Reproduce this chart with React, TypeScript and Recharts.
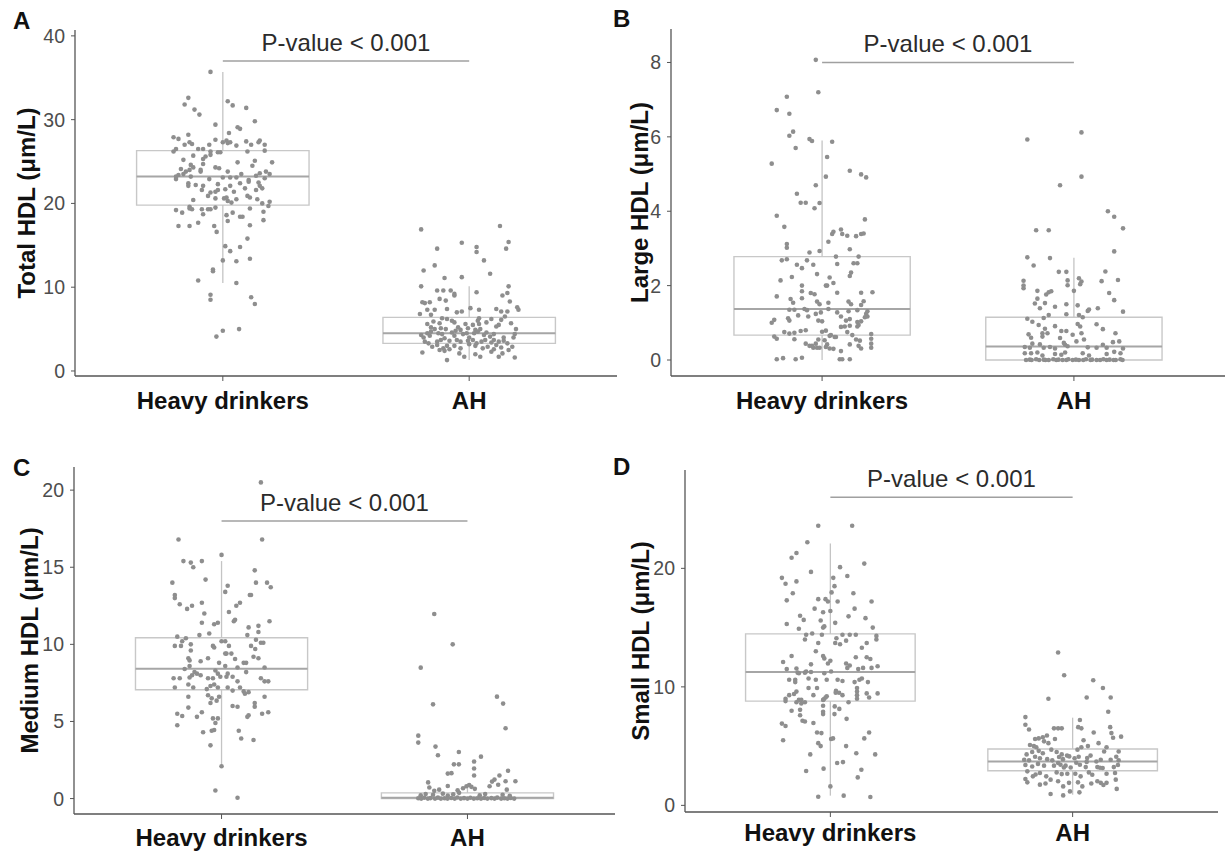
import React from 'react';
import {
  ScatterChart,
  Scatter,
  XAxis,
  YAxis,
  ReferenceArea,
  ReferenceLine,
  ReferenceDot,
} from 'recharts';

// groups on the x axis
const CATS = ['Heavy drinkers', 'AH'];
const P_TEXT = 'P-value < 0.001';

// points are [jitter, value]; jitter is the horizontal offset from the group centre
const totalHeavy: [number, number][] = [
  [-0.05, 35.7], [-0.14, 32.6], [-0.155, 31.8], [-0.115, 31.2], [-0.095, 30.6], [0.02, 32.2], [0.04, 31.7], [0.095, 31.4],
  [0.13, 29.8], [-0.03, 29.4], [0.06, 29.1], [0.07, 28.9], [0.025, 28.4], [-0.2, 27.9], [-0.18, 27.7], [-0.14, 28.2],
  [-0.135, 27.3], [-0.155, 27.0], [-0.125, 27.1], [-0.03, 27.6], [0.0, 27.3], [0.015, 27.5], [0.02, 27.2], [0.03, 27.3],
  [-0.055, 27.0], [0.055, 26.9], [0.095, 27.4], [0.115, 27.0], [0.145, 27.3], [0.15, 27.5], [0.17, 27.0], [0.17, 26.3],
  [-0.2, 26.2], [-0.19, 26.5], [-0.1, 26.5], [-0.08, 26.5], [-0.05, 26.2], [-0.02, 26.1], [-0.01, 26.1], [0.1, 26.2],
  [-0.12, 25.7], [-0.08, 25.3], [-0.07, 25.6], [-0.05, 25.8], [-0.16, 25.2], [0.06, 24.9], [0.13, 25.1], [0.2, 24.9],
  [-0.13, 24.6], [-0.12, 24.3], [-0.08, 24.7], [-0.03, 24.3], [-0.015, 24.2], [0.12, 24.5], [-0.17, 24.1], [-0.15, 23.8],
  [-0.135, 24.0], [-0.09, 23.8], [-0.09, 24.0], [0.02, 23.8], [0.075, 23.5], [0.15, 23.6], [0.175, 23.8], [0.19, 23.5],
  [-0.19, 23.2], [-0.18, 23.4], [-0.19, 22.9], [-0.16, 23.5], [-0.13, 23.2], [-0.055, 22.9], [0.0, 23.1], [0.03, 23.1],
  [0.055, 23.1], [0.105, 22.6], [0.105, 22.8], [0.135, 23.3], [0.17, 23.0], [0.145, 22.5], [-0.14, 22.4], [-0.14, 22.1],
  [-0.11, 22.2], [-0.08, 22.1], [-0.02, 22.3], [0.03, 22.1], [0.07, 22.4], [0.15, 22.1], [0.16, 21.8], [-0.085, 21.6],
  [-0.05, 21.3], [-0.03, 21.4], [-0.02, 21.6], [0.01, 21.7], [0.045, 21.4], [0.09, 21.8], [0.135, 21.6], [0.1, 20.9],
  [0.11, 20.7], [0.015, 20.7], [-0.06, 20.9], [-0.12, 20.4], [-0.03, 20.6], [0.005, 20.6], [0.02, 20.3], [0.035, 20.1],
  [0.055, 20.5], [0.14, 20.5], [0.16, 20.0], [0.19, 20.2], [0.185, 19.7], [-0.135, 19.6], [-0.125, 19.3], [-0.135, 19.4],
  [-0.085, 19.3], [-0.06, 19.3], [-0.05, 19.3], [-0.03, 19.5], [0.11, 19.4], [-0.19, 19.2], [-0.165, 18.9], [0.04, 18.9],
  [0.165, 19.0], [0.015, 18.6], [0.07, 18.4], [0.08, 18.4], [-0.08, 18.7], [0.165, 18.0], [0.02, 17.9], [-0.1, 17.7],
  [-0.18, 17.3], [-0.135, 17.3], [-0.035, 17.3], [0.11, 17.4], [-0.025, 16.6], [0.1, 15.8], [0.01, 14.9], [0.03, 14.3],
  [0.07, 14.8], [0.11, 13.4], [0.0, 13.2], [0.055, 13.1], [-0.04, 12.1], [-0.04, 11.9], [-0.1, 10.8], [0.055, 10.5],
  [-0.05, 9.1], [-0.05, 8.5], [0.115, 8.8], [0.13, 8.0], [-0.026, 4.1], [0.0, 4.8], [0.066, 5.0],
];

const totalAH: [number, number][] = [
  [-0.195, 16.9], [0.125, 17.3], [-0.13, 14.6], [-0.03, 15.3], [0.03, 14.8], [0.03, 14.2], [0.16, 15.4], [0.15, 14.6],
  [0.06, 13.2], [-0.185, 12.0], [-0.14, 12.6], [0.085, 11.6], [-0.1, 11.1], [-0.03, 11.2], [-0.195, 10.1], [-0.13, 9.6],
  [-0.105, 9.6], [-0.075, 9.6], [-0.06, 9.2], [-0.06, 9.0], [0.03, 9.4], [0.16, 10.1], [0.155, 9.3], [0.135, 9.0],
  [-0.12, 8.6], [-0.095, 8.4], [-0.19, 8.2], [-0.18, 8.1], [-0.16, 8.2], [0.165, 8.3], [0.195, 7.6], [0.2, 7.3],
  [-0.09, 7.4], [-0.14, 7.3], [-0.17, 7.3], [-0.03, 7.1], [-0.05, 7.0], [0.005, 7.5], [0.04, 7.3], [0.11, 7.4],
  [0.13, 7.1], [0.155, 7.1], [-0.2, 6.8], [-0.155, 6.7], [-0.11, 6.3], [-0.09, 6.2], [-0.07, 6.0], [0.04, 6.3],
  [0.035, 6.0], [0.09, 6.2], [0.145, 6.5], [0.13, 6.1], [-0.145, 5.9], [-0.12, 5.7], [-0.06, 5.8], [-0.015, 5.6],
  [0.015, 5.5], [0.04, 5.6], [0.11, 5.3], [0.12, 5.5], [-0.155, 5.2], [-0.14, 5.0], [-0.115, 5.1], [-0.095, 5.0],
  [-0.045, 5.2], [-0.035, 4.9], [-0.005, 5.1], [0.025, 4.9], [0.045, 5.0], [0.19, 5.0], [-0.195, 4.3], [-0.185, 4.0],
  [-0.17, 4.5], [-0.155, 4.7], [-0.125, 4.5], [-0.11, 4.4], [-0.07, 4.6], [-0.055, 4.8], [-0.025, 4.4], [-0.01, 4.5],
  [0.02, 4.5], [0.035, 4.7], [0.07, 4.6], [0.085, 4.1], [0.185, 4.4], [0.18, 4.0], [-0.18, 3.5], [-0.165, 3.3],
  [-0.13, 3.5], [-0.115, 3.7], [-0.08, 3.6], [-0.05, 3.7], [-0.035, 3.5], [-0.005, 3.6], [0.015, 3.7], [0.05, 3.5],
  [0.065, 3.7], [0.1, 3.7], [0.12, 3.5], [0.155, 3.3], [-0.15, 2.9], [-0.105, 2.7], [-0.09, 3.0], [-0.06, 3.0],
  [-0.035, 2.7], [0.025, 3.0], [0.055, 2.7], [0.075, 2.9], [0.11, 3.1], [0.13, 2.8], [0.175, 2.9], [-0.19, 2.2],
  [-0.12, 2.5], [-0.1, 2.4], [-0.04, 2.1], [-0.02, 1.7], [0.025, 2.0], [0.045, 1.7], [0.09, 2.3], [0.12, 1.7],
  [0.135, 2.1], [-0.09, 1.3], [0.185, 1.6], [-0.16, 4.2], [-0.1, 3.9], [-0.06, 4.2], [0.0, 4.0], [0.06, 4.3],
  [0.1, 4.4], [0.14, 4.0], [-0.13, 3.1], [0.0, 3.2], [0.03, 3.3], [0.09, 3.4], [0.14, 3.6], [-0.08, 2.6],
  [0.1, 2.6], [0.16, 2.5], [-0.17, 5.6], [0.07, 5.8], [0.17, 5.7],
];

const largeHeavy: [number, number][] = [
  [-0.025, 8.07], [-0.015, 7.2], [-0.14, 7.08], [-0.18, 6.72], [-0.13, 6.62], [-0.115, 6.14], [-0.13, 6.03], [-0.105, 5.7],
  [-0.05, 5.94], [-0.04, 5.89], [0.04, 5.87], [-0.2, 5.28], [0.02, 5.46], [0.015, 4.93], [0.11, 5.09], [0.155, 4.99],
  [0.175, 4.91], [-0.025, 4.7], [-0.1, 4.47], [-0.085, 4.23], [-0.065, 4.23], [-0.03, 4.08], [-0.01, 4.22], [-0.18, 3.88],
  [0.17, 3.78], [-0.15, 3.58], [0.045, 3.45], [0.04, 3.39], [0.075, 3.51], [0.08, 3.39], [0.1, 3.34], [0.135, 3.33],
  [0.155, 3.39], [0.165, 3.4], [0.025, 3.18], [-0.14, 3.12], [-0.14, 3.02], [0.11, 2.98], [-0.05, 2.89], [-0.01, 2.93],
  [-0.16, 2.68], [-0.14, 2.71], [-0.06, 2.68], [-0.035, 2.56], [0.055, 2.78], [0.145, 2.78], [0.125, 2.6], [0.14, 2.6],
  [-0.1, 2.56], [-0.08, 2.47], [0.06, 2.58], [0.115, 2.35], [0.11, 2.26], [-0.165, 2.14], [-0.12, 2.23], [-0.02, 2.31],
  [0.03, 2.22], [-0.08, 2.0], [-0.08, 1.85], [0.015, 2.0], [0.02, 2.0], [0.045, 2.07], [-0.045, 1.8], [-0.03, 1.77],
  [0.06, 1.81], [0.155, 1.81], [0.2, 1.82], [-0.18, 1.71], [-0.125, 1.64], [-0.115, 1.54], [-0.08, 1.66], [-0.02, 1.57],
  [-0.01, 1.5], [0.025, 1.54], [0.105, 1.57], [0.115, 1.5], [0.165, 1.58], [0.155, 1.48], [-0.13, 1.35], [-0.11, 1.35],
  [-0.07, 1.37], [-0.06, 1.34], [-0.025, 1.24], [-0.005, 1.28], [0.025, 1.37], [0.06, 1.28], [0.105, 1.31], [0.14, 1.34],
  [0.18, 1.31], [0.175, 1.24], [-0.19, 1.08], [-0.2, 1.0], [-0.135, 1.12], [-0.13, 1.06], [-0.095, 1.2], [-0.055, 1.17],
  [-0.015, 1.06], [0.0, 1.04], [0.075, 1.17], [0.095, 1.06], [0.11, 1.1], [0.14, 1.02], [0.155, 1.04], [0.17, 1.15],
  [0.18, 1.17], [-0.15, 0.75], [-0.11, 0.73], [-0.13, 0.71], [-0.085, 0.78], [-0.065, 0.8], [0.0, 0.76], [0.015, 0.79],
  [0.05, 0.62], [0.03, 0.65], [0.075, 0.89], [0.09, 0.9], [0.11, 0.92], [0.14, 0.9], [0.145, 0.94], [0.1, 0.75],
  [-0.19, 0.63], [-0.18, 0.57], [-0.11, 0.56], [-0.065, 0.44], [-0.05, 0.38], [-0.04, 0.38], [-0.025, 0.44], [-0.015, 0.55],
  [0.01, 0.53], [0.02, 0.42], [0.035, 0.67], [0.055, 0.62], [0.12, 0.67], [0.135, 0.55], [0.15, 0.52], [0.195, 0.7],
  [0.195, 0.57], [0.195, 0.44], [-0.035, 0.33], [-0.02, 0.33], [-0.01, 0.33], [0.015, 0.35], [0.03, 0.31], [0.045, 0.3],
  [0.075, 0.24], [0.11, 0.42], [0.145, 0.38], [0.155, 0.31], [0.195, 0.33], [-0.18, 0.02], [-0.155, 0.05], [-0.105, 0.02],
  [-0.08, 0.06], [0.07, 0.02], [0.08, 0.02], [0.11, 0.02],
];

const largeAH: [number, number][] = [
  [0.03, 6.12], [-0.185, 5.93], [0.03, 4.93], [-0.055, 4.7], [0.135, 4.0], [0.16, 3.85], [0.195, 3.54], [-0.15, 3.49],
  [-0.1, 3.49], [-0.185, 2.76], [-0.095, 2.74], [0.16, 2.92], [-0.16, 2.54], [-0.06, 2.37], [-0.03, 2.37], [0.125, 2.38],
  [-0.2, 2.13], [-0.2, 2.0], [-0.2, 1.93], [-0.025, 2.14], [-0.025, 2.01], [0.02, 2.2], [0.03, 2.11], [0.025, 2.04],
  [0.11, 2.12], [0.175, 2.15], [-0.145, 1.86], [-0.145, 1.65], [-0.11, 1.76], [-0.1, 1.82], [-0.09, 1.85], [0.0, 1.86],
  [0.14, 1.8], [0.16, 1.61], [-0.155, 1.52], [-0.135, 1.39], [-0.115, 1.53], [-0.075, 1.43], [-0.03, 1.5], [0.015, 1.47],
  [0.055, 1.32], [0.06, 1.36], [0.095, 1.39], [0.195, 1.3], [-0.1, 1.21], [-0.12, 1.13], [-0.03, 1.23], [0.02, 1.21],
  [0.035, 1.15], [-0.185, 1.11], [-0.165, 1.03], [-0.14, 0.94], [-0.115, 0.84], [-0.125, 0.72], [-0.125, 0.63], [-0.105, 0.72],
  [-0.075, 0.91], [-0.05, 0.78], [-0.03, 0.78], [0.015, 0.97], [0.025, 0.9], [0.09, 0.96], [0.115, 0.83], [-0.18, 0.69],
  [-0.17, 0.6], [-0.005, 0.68], [0.03, 0.72], [-0.055, 0.59], [-0.04, 0.46], [0.01, 0.5], [0.04, 0.55], [0.165, 0.72],
  [0.155, 0.48], [0.18, 0.5], [-0.195, 0.35], [-0.175, 0.33], [-0.165, 0.44], [-0.135, 0.42], [-0.12, 0.33], [-0.095, 0.35],
  [-0.075, 0.31], [-0.035, 0.41], [-0.025, 0.37], [0.055, 0.34], [0.09, 0.33], [0.115, 0.41], [0.13, 0.33], [0.195, 0.31],
  [-0.195, 0.18], [-0.17, 0.18], [-0.145, 0.2], [-0.125, 0.12], [-0.075, 0.16], [-0.05, 0.14], [-0.035, 0.2], [0.035, 0.18],
  [0.06, 0.12], [0.13, 0.16], [0.16, 0.22], [0.185, 0.18], [-0.19, 0.0], [-0.175, 0.01], [-0.168, 0.0], [-0.15, 0.02],
  [-0.138, 0.0], [-0.12, 0.01], [-0.113, 0.0], [-0.1, 0.0], [-0.082, 0.02], [-0.07, 0.0], [-0.061, 0.01], [-0.045, 0.0],
  [-0.03, 0.0], [-0.022, 0.02], [-0.005, 0.0], [0.008, 0.01], [0.02, 0.0], [0.037, 0.0], [0.048, 0.02], [0.066, 0.0],
  [0.072, 0.01], [0.09, 0.0], [0.104, 0.0], [0.117, 0.02], [0.13, 0.0], [0.142, 0.01], [0.158, 0.0], [0.166, 0.0],
  [0.185, 0.02], [0.193, 0.0],
];

const mediumHeavy: [number, number][] = [
  [0.16, 20.5], [-0.175, 16.8], [0.165, 16.8], [0, 15.8], [-0.155, 15.4], [-0.125, 15.3], [-0.115, 15.0], [-0.08, 15.4],
  [0.135, 14.8], [-0.2, 14.0], [-0.065, 14.2], [0.14, 14.0], [0.185, 14.0], [0.2, 13.7], [0.025, 13.8], [0.015, 13.4],
  [-0.19, 13.2], [-0.19, 13.0], [-0.17, 12.6], [-0.14, 12.3], [-0.12, 12.5], [-0.08, 12.7], [0.115, 13.2], [0.12, 13.2],
  [0.075, 12.7], [0.06, 12.5], [0.03, 12.1], [-0.07, 12.0], [0.055, 11.6], [0.05, 11.5], [0.195, 11.5], [-0.08, 11.4],
  [-0.03, 11.3], [-0.015, 11.4], [-0.05, 10.7], [0.15, 11.2], [0.15, 10.8], [0.11, 11.1], [0.105, 10.6], [-0.18, 10.5],
  [-0.145, 10.4], [-0.16, 10.2], [-0.09, 10.6], [0, 10.2], [0.015, 10.2], [0.14, 10.3], [0.16, 10.1], [-0.19, 9.9],
  [-0.165, 9.9], [-0.125, 10.0], [-0.035, 9.9], [-0.03, 9.8], [0.03, 9.9], [0.12, 9.9], [0.137, 9.7], [0.17, 10.1],
  [-0.125, 9.6], [0.015, 9.4], [0.02, 9.4], [0.04, 9.4], [0.055, 9.05], [0.13, 9.2], [0.15, 9.1], [-0.135, 9.1],
  [-0.13, 8.96], [-0.085, 8.9], [-0.055, 9.1], [-0.01, 8.8], [0.015, 8.6], [0.09, 8.8], [0.1, 8.8], [0.175, 8.5],
  [-0.15, 8.4], [-0.13, 8.6], [-0.11, 8.2], [-0.1, 8.1], [-0.085, 8.0], [-0.025, 8.3], [-0.015, 8.1], [0.025, 8.1],
  [0.02, 7.9], [0.065, 8.5], [0.1, 8.2], [-0.195, 7.8], [-0.17, 7.8], [-0.13, 7.85], [-0.12, 8.0], [-0.055, 7.8],
  [-0.035, 7.8], [-0.005, 7.9], [0.045, 7.9], [0.065, 7.6], [0.16, 7.8], [0.175, 7.6], [0.19, 7.6], [-0.19, 7.2],
  [-0.135, 7.4], [-0.115, 7.2], [-0.06, 7.1], [-0.045, 7.3], [-0.03, 7.4], [-0.015, 7.2], [0.025, 7.2], [0.045, 7.0],
  [0.075, 7.2], [0.09, 6.95], [0.095, 6.8], [0.11, 6.9], [-0.055, 6.7], [-0.04, 6.5], [-0.01, 6.6], [-0.135, 6.6],
  [0.175, 6.6], [-0.045, 6.2], [-0.02, 6.35], [0.135, 6.2], [0.135, 5.96], [-0.135, 5.9], [0.045, 6.0], [0.065, 5.95],
  [-0.18, 5.5], [-0.16, 5.35], [-0.1, 5.3], [-0.08, 5.6], [0.11, 5.4], [0.105, 5.3], [0.165, 5.5], [0.19, 5.6],
  [-0.035, 5.2], [-0.015, 5.2], [-0.025, 4.9], [-0.18, 4.75], [-0.075, 4.3], [-0.04, 4.4], [-0.03, 4.45], [0.07, 4.4],
  [0.08, 3.9], [0.13, 3.8], [-0.045, 3.45], [0, 2.1], [-0.025, 0.52], [0.065, 0.05],
];

const mediumAH: [number, number][] = [
  [-0.135, 11.97], [-0.06, 10.0], [-0.19, 8.49], [-0.14, 6.11], [0.12, 6.61], [0.145, 6.16], [0.155, 4.56], [-0.2, 4.08],
  [-0.2, 3.63], [-0.13, 3.37], [-0.12, 2.81], [-0.035, 3.02], [0.055, 2.72], [-0.055, 2.22], [-0.035, 2.22], [0.027, 2.4],
  [0.027, 1.95], [-0.08, 1.62], [-0.065, 1.65], [0.027, 1.5], [0.13, 1.5], [0.11, 1.23], [0.1, 1.1], [0.165, 1.8],
  [0.155, 1.12], [0.195, 1.12], [-0.16, 1.05], [-0.08, 0.82], [-0.018, 0.67], [-0.004, 0.8], [0.007, 0.88], [0.016, 0.76],
  [0.03, 0.63], [-0.155, 0.72], [-0.135, 0.5], [-0.115, 0.58], [-0.04, 0.54], [-0.034, 0.37], [0.09, 0.8], [0.125, 0.9],
  [0.16, 0.58], [-0.17, 0.3], [-0.19, 0.22], [-0.14, 0.25], [-0.1, 0.32], [-0.08, 0.2], [-0.058, 0.28], [0.05, 0.22],
  [0.072, 0.3], [0.143, 0.25], [0.172, 0.18], [-0.2, 0.02], [-0.188, 0.0], [-0.176, 0.05], [-0.161, 0.0], [-0.15, 0.03],
  [-0.132, 0.0], [-0.12, 0.06], [-0.108, 0.0], [-0.093, 0.02], [-0.081, 0.0], [-0.066, 0.04], [-0.052, 0.0], [-0.041, 0.07],
  [-0.027, 0.0], [-0.014, 0.03], [0.0, 0.0], [0.012, 0.05], [0.026, 0.0], [0.04, 0.02], [0.055, 0.0], [0.068, 0.04],
  [0.081, 0.0], [0.097, 0.03], [0.11, 0.0], [0.121, 0.06], [0.137, 0.0], [0.15, 0.02], [0.163, 0.0], [0.176, 0.04],
  [0.19, 0.0],
];

const smallHeavy: [number, number][] = [
  [-0.05, 23.6], [0.09, 23.6], [-0.095, 22.2], [-0.14, 21.3], [-0.16, 20.9], [0.14, 20.4], [-0.08, 19.7], [0.04, 20.1],
  [0.07, 19.35], [-0.2, 19.2], [-0.185, 18.7], [-0.14, 18.9], [0.012, 19.2], [0.017, 18.5], [-0.155, 17.9], [0.005, 17.97],
  [0.095, 17.9], [-0.18, 17.3], [-0.05, 17.4], [-0.02, 17.4], [-0.01, 17.2], [0.03, 17.2], [0.17, 17.2], [-0.065, 16.6],
  [-0.03, 16.3], [0, 16.4], [0.1, 16.6], [-0.125, 16.0], [-0.11, 15.65], [-0.18, 15.3], [-0.13, 14.9], [-0.04, 15.6],
  [-0.03, 15.0], [-0.025, 15.1], [0.02, 15.4], [0.075, 15.95], [0.145, 15.8], [0.175, 15.0], [-0.1, 14.4], [-0.075, 14.5],
  [-0.035, 14.4], [-0.105, 14.0], [0.025, 14.1], [0.05, 14.4], [0.08, 14.4], [0.105, 14.4], [0.19, 14.3], [0.19, 14.0],
  [0.02, 13.7], [0.04, 13.6], [0.065, 13.9], [-0.05, 13.7], [0.15, 13.7], [0.13, 13.3], [-0.06, 13.0], [-0.03, 12.6],
  [-0.025, 12.4], [-0.16, 12.6], [-0.01, 11.97], [0, 12.2], [0.065, 11.97], [0.08, 11.8], [0.105, 12.5], [0.15, 12.5],
  [0.165, 12.35], [-0.195, 12.1], [-0.08, 11.9], [0.07, 11.6], [0.115, 11.5], [0.135, 11.6], [0.195, 11.74], [-0.18, 11.5],
  [-0.14, 11.55], [-0.1, 11.3], [-0.135, 11.2], [-0.13, 11.15], [-0.105, 11.2], [-0.08, 11.25], [-0.025, 11.15], [0.003, 11.3],
  [0.17, 11.6], [-0.17, 10.6], [-0.145, 10.6], [-0.145, 10.4], [-0.09, 10.7], [-0.06, 10.6], [-0.015, 10.6], [0.03, 10.6],
  [0.05, 10.5], [0.1, 10.4], [0.12, 10.6], [0.13, 10.7], [0.155, 10.4], [-0.09, 9.9], [-0.055, 9.9], [0.023, 9.66],
  [0.036, 9.5], [0.11, 9.9], [0.11, 9.6], [0.11, 9.3], [0.11, 9.0], [-0.015, 9.2], [-0.027, 8.96], [-0.02, 9.1],
  [-0.14, 9.6], [-0.15, 9.4], [-0.17, 9.3], [-0.07, 9.3], [0.022, 9.5], [0.05, 9.3], [0.15, 9.45], [0.16, 9.1],
  [0.195, 9.45], [-0.185, 9.0], [-0.185, 8.8], [-0.14, 8.7], [-0.13, 8.9], [-0.12, 8.9], [-0.12, 8.6], [-0.105, 8.7],
  [-0.03, 8.9], [0.075, 8.7], [-0.03, 8.4], [-0.03, 7.9], [-0.03, 7.7], [-0.16, 7.98], [-0.125, 8.06], [0.018, 8.35],
  [0.037, 8.14], [-0.125, 7.6], [-0.115, 7.14], [-0.105, 7.08], [0.017, 7.7], [0.067, 7.3], [-0.2, 6.9], [-0.185, 6.7],
  [-0.07, 6.95], [-0.055, 6.15], [-0.037, 6.1], [0.16, 6.15], [0.003, 5.6], [0.011, 5.65], [-0.195, 5.5], [0.14, 5.65],
  [-0.05, 5.25], [-0.04, 5.0], [0.065, 5.0], [-0.083, 4.3], [0.107, 4.4], [0.185, 4.3], [0.028, 3.57], [0.052, 3.65],
  [-0.1, 2.9], [-0.028, 3.1], [0.128, 3.0], [0.113, 2.36], [0, 1.6], [-0.05, 0.73], [0.055, 0.82], [0.165, 0.7],
];

const smallAH: [number, number][] = [
  [-0.06, 12.9], [-0.035, 10.98], [0.085, 10.56], [0.125, 9.9], [-0.1, 9.0], [0.058, 9.1], [0.157, 9.1], [0.147, 7.9],
  [-0.195, 7.45], [-0.195, 6.8], [-0.18, 6.4], [-0.077, 6.5], [-0.06, 6.5], [-0.045, 6.5], [0.03, 7.2], [0.023, 6.6],
  [0.036, 6.5], [0.155, 6.6], [0.16, 6.1], [0.087, 6.15], [0.2, 5.8], [0.167, 5.7], [-0.155, 5.6], [-0.14, 5.65],
  [-0.123, 5.75], [-0.106, 5.9], [-0.073, 5.6], [0.045, 5.5], [-0.176, 5.1], [-0.16, 5.0], [-0.15, 4.9], [-0.118, 5.4],
  [-0.1, 5.25], [0.02, 4.7], [0.036, 4.9], [0.063, 5.0], [0.107, 5.25], [0.14, 4.9], [-0.19, 4.3], [-0.167, 4.5],
  [-0.14, 4.6], [-0.123, 4.4], [-0.088, 4.7], [-0.066, 4.5], [-0.045, 4.3], [-0.023, 4.2], [-0.014, 4.13], [0.008, 3.98],
  [0.025, 4.1], [0.06, 4.0], [0.074, 4.2], [0.13, 4.55], [0.19, 4.55], [0.18, 4.1], [-0.2, 3.85], [-0.18, 3.8],
  [-0.155, 4.1], [-0.135, 3.98], [-0.105, 3.9], [-0.084, 3.8], [-0.056, 4.08], [-0.04, 3.9], [0.015, 3.6], [0.058, 3.67],
  [0.098, 3.7], [0.116, 3.85], [0.157, 3.85], [0.19, 3.8], [-0.195, 3.4], [-0.167, 3.28], [-0.143, 3.5], [-0.118, 3.35],
  [-0.077, 3.35], [-0.06, 3.57], [-0.05, 3.43], [-0.036, 3.2], [-0.029, 3.35], [-0.008, 3.2], [0.03, 3.43], [0.054, 3.23],
  [0.102, 3.23], [0.113, 3.18], [0.124, 3.15], [0.17, 3.23], [0.187, 3.4], [-0.187, 2.87], [-0.153, 2.6], [-0.135, 2.73],
  [-0.109, 2.45], [-0.066, 2.78], [-0.045, 2.64], [-0.022, 2.67], [0.011, 2.67], [0.033, 2.45], [0.067, 2.78], [0.081, 2.58],
  [0.14, 2.67], [0.175, 2.73], [-0.195, 2.22], [-0.187, 1.94], [-0.164, 2.45], [-0.135, 1.75], [-0.112, 1.84], [-0.091, 2.17],
  [-0.06, 2.03], [-0.039, 1.6], [-0.015, 1.9], [0.022, 1.94], [0.04, 1.6], [0.077, 1.84], [0.102, 2.03], [0.116, 1.9],
  [0.127, 1.72], [0.14, 1.9], [0.178, 2.17], [0.182, 1.39], [-0.091, 0.96], [-0.039, 0.84], [-0.011, 1.18], [0.028, 1.1],
];

// box statistics per group: [lower whisker, q1, median, q3, upper whisker]
const totalBoxes = [[10.5, 19.8, 23.2, 26.3, 35.7], [1.3, 3.3, 4.5, 6.4, 10.1]];
const largeBoxes = [[0, 0.67, 1.37, 2.78, 5.9], [0, 0, 0.36, 1.15, 2.75]];
const mediumBoxes = [[2.1, 7.06, 8.42, 10.43, 15.4], [0, 0, 0.05, 0.37, 0.9]];
const smallBoxes = [[0.82, 8.8, 11.26, 14.47, 22.1], [0.9, 2.92, 3.7, 4.75, 7.4]];

// height of the significance bracket in each panel
const brackets = [37, 8, 18, 26];

const FONT = '"Liberation Sans", Arial, Helvetica, sans-serif';
const BOX_HALF = 0.35;

const panels = [
  {
    letter: 'A', title: 'Total HDL (μm/L)', heavy: totalHeavy, ah: totalAH, boxes: totalBoxes, bracket: brackets[0],
    domain: [-0.6, 40.7], ticks: [0, 10, 20, 30, 40],
    left: 0, top: 0, width: 620, height: 425, margin: { top: 30, right: 3, bottom: 0, left: 0 },
    yW: 75, xH: 49, xGap: 11, titleX: 26, letterX: 13, letterY: 29,
  },
  {
    letter: 'B', title: 'Large HDL (μm/L)', heavy: largeHeavy, ah: largeAH, boxes: largeBoxes, bracket: brackets[1],
    domain: [-0.43, 8.9], ticks: [0, 2, 4, 6, 8],
    left: 600, top: 0, width: 627, height: 425, margin: { top: 29, right: 2, bottom: 0, left: 0 },
    yW: 71, xH: 49, xGap: 11, titleX: 39, letterX: 613, letterY: 27,
  },
  {
    letter: 'C', title: 'Medium HDL (μm/L)', heavy: mediumHeavy, ah: mediumAH, boxes: mediumBoxes, bracket: brackets[2],
    domain: [-1.0, 21.5], ticks: [0, 5, 10, 15, 20],
    left: 0, top: 425, width: 620, height: 430, margin: { top: 42, right: 5, bottom: 0, left: 0 },
    yW: 74, xH: 41, xGap: 10, titleX: 29, letterX: 13, letterY: 476,
  },
  {
    letter: 'D', title: 'Small HDL (μm/L)', heavy: smallHeavy, ah: smallAH, boxes: smallBoxes, bracket: brackets[3],
    domain: [-0.56, 28.3], ticks: [0, 10, 20],
    left: 600, top: 425, width: 627, height: 430, margin: { top: 45, right: 9, bottom: 0, left: 0 },
    yW: 85, xH: 43, xGap: 7, titleX: 40, letterX: 613, letterY: 475,
  },
];

const Dot = (props: any) => {
  const { cx, cy } = props;
  if (cx == null || cy == null) return null;
  return <circle cx={cx} cy={cy} r={2.3} fill="#8e8e8e" />;
};

function yTitle(text: string, dx: number) {
  return (props: any) => {
    const vb = props.viewBox || {};
    const cx = (vb.x || 0) + dx;
    const cy = (vb.y || 0) + (vb.height || 0) / 2;
    return (
      <text
        x={cx}
        y={cy}
        transform={`rotate(-90 ${cx} ${cy})`}
        textAnchor="middle"
        dominantBaseline="central"
        fontSize={24}
        fontWeight="bold"
        fill="#111"
        fontFamily={FONT}
      >
        {text}
      </text>
    );
  };
}

function BoxPanel({ p }: { p: (typeof panels)[number] }) {
  const points = [
    ...p.heavy.map(([j, v]) => ({ x: 1 + j, y: v })),
    ...p.ah.map(([j, v]) => ({ x: 2 + j, y: v })),
  ];

  return (
    <div style={{ position: 'absolute', left: p.left, top: p.top }}>
      <ScatterChart width={p.width} height={p.height} margin={p.margin}>
        <XAxis
          type="number"
          dataKey="x"
          domain={[0.4, 2.6]}
          ticks={[1, 2]}
          interval={0}
          tickFormatter={(v: number) => CATS[Math.round(v) - 1]}
          height={p.xH}
          tickSize={5}
          tickMargin={p.xGap}
          axisLine={{ stroke: '#555', strokeWidth: 1.3 }}
          tickLine={{ stroke: '#555' }}
          tick={{ fontSize: 24, fontWeight: 'bold', fill: '#111', fontFamily: FONT }}
        />
        <YAxis
          type="number"
          dataKey="y"
          domain={p.domain}
          ticks={p.ticks}
          interval={0}
          width={p.yW}
          tickSize={4}
          tickMargin={6}
          axisLine={{ stroke: '#555', strokeWidth: 1.3 }}
          tickLine={{ stroke: '#555' }}
          tick={{ fontSize: 19.5, fill: '#4d4d4d', fontFamily: FONT }}
          label={yTitle(p.title, p.titleX)}
        />
        {p.boxes.map(([lo, q1, med, q3, hi], i) => {
          const c = i + 1;
          return (
            <React.Fragment key={c}>
              <ReferenceArea
                x1={c - BOX_HALF}
                x2={c + BOX_HALF}
                y1={q1}
                y2={q3}
                fill="#ffffff"
                fillOpacity={0}
                stroke="#c8c8c8"
                strokeWidth={1.4}
              />
              <ReferenceLine segment={[{ x: c, y: q3 }, { x: c, y: hi }]} stroke="#c4c4c4" strokeWidth={1.3} />
              <ReferenceLine segment={[{ x: c, y: lo }, { x: c, y: q1 }]} stroke="#c4c4c4" strokeWidth={1.3} />
              <ReferenceLine
                segment={[{ x: c - BOX_HALF, y: med }, { x: c + BOX_HALF, y: med }]}
                stroke="#a6a6a6"
                strokeWidth={2}
              />
            </React.Fragment>
          );
        })}
        <ReferenceLine segment={[{ x: 1, y: p.bracket }, { x: 2, y: p.bracket }]} stroke="#a0a0a0" strokeWidth={1.5} />
        <ReferenceDot
          x={1.5}
          y={p.bracket}
          r={0}
          stroke="none"
          fill="none"
          label={{ value: P_TEXT, position: 'top', offset: 10, fontSize: 24, fill: '#2b2b2b', fontFamily: FONT }}
        />
        <Scatter data={points} shape={Dot} isAnimationActive={false} />
      </ScatterChart>
    </div>
  );
}

export default function App() {
  return (
    <div
      style={{
        position: 'absolute',
        left: 0,
        top: 0,
        width: 1227,
        height: 855,
        background: '#fff',
        fontFamily: FONT,
      }}
    >
      {panels.map((p) => (
        <BoxPanel key={p.letter} p={p} />
      ))}
      <svg width={1227} height={855} style={{ position: 'absolute', left: 0, top: 0, pointerEvents: 'none' }}>
        {panels.map((p) => (
          <text key={p.letter} x={p.letterX} y={p.letterY} fontSize={24} fontWeight="bold" fill="#111" fontFamily={FONT}>
            {p.letter}
          </text>
        ))}
      </svg>
    </div>
  );
}
